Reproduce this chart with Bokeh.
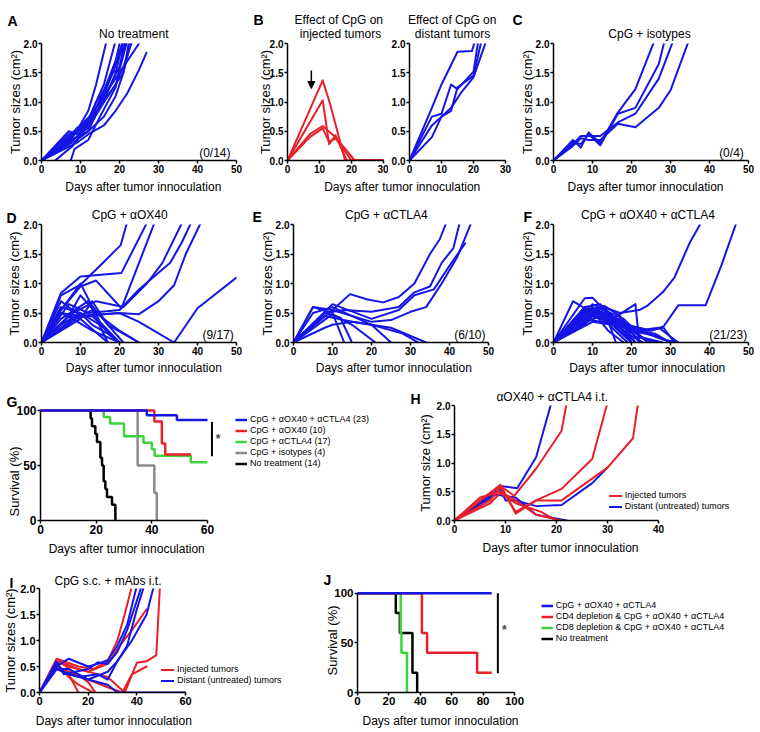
import math
from bokeh.plotting import figure
from bokeh.models import (Range1d, FixedTicker, PrintfTickFormatter, Label, Legend,
                          LegendItem, Arrow, NormalHead)
from bokeh.layouts import row, column
from bokeh.embed import file_html
from bokeh.resources import INLINE

FONT = "Liberation Sans"
BLUE = "#1515e6"
RED = "#e8202a"
GREEN = "#3cd43c"
GRAY = "#8a8a8a"
BLACK = "#000000"

PAGE_W, PAGE_H = 760, 731

# ------------------------------------------------------------------ data
TUMOR_YTICKS = [0, 0.5, 1.0, 1.5, 2.0]

# A: no treatment (14 mice)
A_days = [[0, 5, 9, 12, 14, 16.7], [0, 5, 9, 12, 16, 19], [0, 7, 9, 12, 14, 16, 19, 20.2],
          [0, 9, 12, 16, 19, 21, 22.5], [0, 9, 12, 16, 19, 22, 25, 26.9], [0, 5, 10, 14, 17, 20, 21.5],
          [3.5, 8, 12, 16, 19, 21], [7.5, 8.5, 12, 15, 19, 21.5], [0, 5, 9, 12, 15, 18, 20, 22],
          [0, 7, 10, 13, 16, 19, 21, 23.3], [0, 6, 9, 12, 14, 17, 19, 21], [0, 7, 10, 13, 16, 18, 20, 22],
          [0, 7, 9, 12, 16, 18, 21, 23], [0, 5, 9, 12, 14, 17, 20, 25.5]]
A_sizes = [[0, 0.3, 0.5, 0.85, 1.3, 2.05], [0, 0.25, 0.55, 0.7, 1.3, 2.05], [0, 0.45, 0.5, 0.6, 0.9, 1.2, 1.7, 2.05],
           [0, 0.4, 0.5, 0.75, 1.1, 1.5, 2.05], [0, 0.3, 0.45, 0.6, 0.85, 1.15, 1.55, 1.84], [0, 0.2, 0.45, 0.8, 1.2, 1.6, 2.05],
           [0, 0.25, 0.6, 1.0, 1.5, 2.05], [0, 0.2, 0.35, 0.75, 1.25, 2.05], [0, 0.3, 0.4, 0.7, 1.0, 1.45, 1.8, 2.05],
           [0, 0.35, 0.55, 0.75, 1.0, 1.3, 1.6, 2.05], [0, 0.25, 0.5, 0.65, 1.0, 1.3, 1.7, 2.05], [0, 0.3, 0.6, 0.8, 1.1, 1.5, 1.55, 2.05],
           [0, 0.5, 0.45, 0.55, 1.0, 1.2, 1.5, 2.05], [0, 0.2, 0.35, 0.5, 0.8, 1.2, 1.5, 2.05]]

# B: CpG injected tumors (red) and distant tumors (blue)
B_inj_days = [[0, 11, 13.3, 18, 30], [0, 11, 13, 15, 18.5, 30], [0, 7, 11, 13.3, 15, 21, 30], [0, 7, 11, 13, 15, 20, 30]]
B_inj_sizes = [[0, 1.37, 0.97, 0, 0], [0, 1.03, 0.28, 0.43, 0, 0], [0, 0.45, 0.59, 0.48, 0.4, 0, 0], [0, 0.4, 0.55, 0.32, 0.38, 0, 0]]
B_dist_days = [[0, 7, 10, 15, 19.5, 20.5], [0, 7, 10, 13, 15, 20, 21.5], [0, 7, 10, 13, 15, 20, 22.5], [0, 7, 10, 13, 16, 20, 24]]
B_dist_sizes = [[0, 0.9, 1.3, 1.86, 1.87, 2.05], [0, 0.75, 0.8, 1.3, 1.22, 1.52, 2.05], [0, 0.6, 0.75, 0.85, 1.25, 1.45, 2.05],
                [0, 0.4, 0.75, 0.9, 1.15, 1.42, 2.05]]
B_arrow_day = 7.45
B_arrow_from = 1.54
B_arrow_to = 1.23

# C: CpG + isotypes
C_days = [[0, 5, 7, 9, 12, 16.5, 21, 25.9], [0, 5, 7, 9, 12, 16.5, 21, 27, 28.5],
          [0, 5, 7, 9, 12, 16.5, 21, 27, 30.7], [0, 5, 7, 9, 12, 16.5, 21, 27, 30, 34.7]]
C_sizes = [[0, 0.35, 0.22, 0.48, 0.3, 0.82, 1.22, 2.05], [0, 0.32, 0.28, 0.45, 0.26, 0.8, 0.9, 1.65, 2.05],
           [0, 0.28, 0.42, 0.42, 0.42, 0.65, 0.8, 1.4, 2.05], [0, 0.25, 0.38, 0.35, 0.35, 0.63, 0.57, 0.9, 1.2, 2.05]]

# D: CpG + aOX40
D_days = [[0, 5, 10, 15, 20.3, 22], [0, 5, 10, 20.5, 27.2], [0, 5, 10, 14, 20.5, 29.1],
          [0, 8, 14, 21, 27, 31, 36.2], [0, 7, 12, 20, 25, 33, 36, 38.5], [0, 10, 20, 25, 30, 34, 37, 41],
          [0, 5, 10, 20, 25, 34, 40, 50],
          [0, 5, 10, 13, 17], [0, 5, 10, 15, 20], [0, 7, 10, 14, 20, 25], [0, 5, 12, 17, 21],
          [0, 7, 10, 13, 17, 20], [0, 5, 10, 15, 20], [0, 5, 8, 13, 20], [0, 10, 13, 17, 25],
          [0, 7, 10, 17], [0, 5, 8, 13, 20]]
D_sizes = [[0, 0.8, 0.98, 1.3, 1.65, 2.05], [0, 0.84, 1.12, 1.18, 2.05], [0, 0.55, 0.95, 1.05, 0.58, 2.05],
           [0, 0.5, 0.7, 0.6, 1.0, 1.35, 2.05], [0, 0.65, 0.5, 0.55, 0.9, 1.35, 1.7, 2.05], [0, 0.45, 0.5, 0.48, 0.7, 0.97, 1.5, 2.05],
           [0, 0.5, 0.45, 0.5, 0.35, 0, 0.58, 1.1],
           [0, 0.7, 0.45, 0.55, 0], [0, 0.6, 0.5, 0.3, 0], [0, 0.45, 0.8, 0.5, 0.2, 0], [0, 0.4, 0.7, 0.3, 0],
           [0, 0.35, 0.5, 0.3, 0.15, 0], [0, 0.55, 1.0, 0.35, 0], [0, 0.5, 0.4, 0.2, 0], [0, 0.4, 0.7, 0.3, 0],
           [0, 0.45, 0.4, 0], [0, 0.3, 0.42, 0.45, 0]]

# E: CpG + aCTLA4
E_days = [[0, 5, 10, 14.5, 19, 23, 27, 31, 35, 37.5, 39.3], [0, 8, 13, 20, 27, 31, 35, 38, 41, 42.7],
          [0, 10, 20, 27, 31, 36, 40, 44], [0, 10, 20, 25, 30, 34, 38, 42, 45.7],
          [0, 5, 10, 13], [0, 8, 12, 15], [0, 10, 15, 21], [0, 5, 10, 20, 25], [0, 8, 15, 25, 34],
          [0, 8, 10, 15, 20, 28, 32]]
E_sizes = [[0, 0.6, 0.55, 0.82, 0.73, 0.68, 0.77, 1.0, 1.5, 1.75, 2.05], [0, 0.5, 0.55, 0.52, 0.6, 0.85, 0.95, 1.35, 1.6, 2.05],
           [0, 0.65, 0.4, 0.55, 0.8, 0.9, 1.3, 1.68], [0, 0.55, 0.35, 0.38, 0.52, 0.6, 1.0, 1.45, 2.05],
           [0, 0.6, 0.5, 0], [0, 0.5, 0.42, 0], [0, 0.48, 0.3, 0], [0, 0.5, 0.6, 0.3, 0], [0, 0.45, 0.35, 0.25, 0],
           [0, 0.25, 0.3, 0.35, 0.3, 0.15, 0]]

# F: CpG + aOX40 + aCTLA4 (23 mice)
F_days = [[0, 8, 13, 17, 22, 24, 28, 31, 35, 38], [0, 10, 17, 24, 28, 32, 39, 43, 47],
          [0, 5, 10, 15, 20], [0, 8, 10, 13, 18, 21], [0, 8, 12, 16, 20], [0, 8, 13, 17, 22],
          [0, 10, 13, 18, 24], [0, 8, 12, 15, 19], [0, 10, 15, 21, 27, 32], [0, 8, 12, 17, 22, 28],
          [0, 10, 14, 18, 21], [0, 8, 13, 16], [0, 5, 10, 13, 17, 20], [0, 8, 12, 18, 22, 26, 30],
          [0, 10, 13, 17, 22, 25, 28, 31], [0, 8, 11, 15, 19, 23], [0, 10, 14, 21, 22], [0, 8, 12, 16, 20, 25],
          [0, 10, 13, 20, 27, 30], [0, 8, 11, 14, 18], [0, 10, 15, 20, 24, 28, 32], [0, 8, 12, 17, 21, 27],
          [0, 10, 13, 18, 20]]
F_sizes = [[0, 0.55, 0.6, 0.5, 0.55, 0.62, 0.85, 1.1, 1.7, 2.05], [0, 0.45, 0.35, 0.2, 0.25, 0.63, 0.63, 1.3, 2.05],
           [0, 0.7, 0.5, 0.3, 0], [0, 0.75, 0.76, 0.55, 0.3, 0], [0, 0.6, 0.65, 0.35, 0], [0, 0.5, 0.62, 0.45, 0],
           [0, 0.65, 0.55, 0.4, 0], [0, 0.45, 0.5, 0.25, 0], [0, 0.55, 0.45, 0.2, 0.25, 0], [0, 0.35, 0.45, 0.4, 0.1, 0],
           [0, 0.6, 0.45, 0.2, 0], [0, 0.4, 0.55, 0], [0, 0.3, 0.45, 0.5, 0.2, 0], [0, 0.4, 0.35, 0.3, 0.2, 0.15, 0],
           [0, 0.5, 0.6, 0.3, 0.25, 0.2, 0.27, 0], [0, 0.3, 0.55, 0.35, 0.15, 0], [0, 0.45, 0.35, 0.65, 0], [0, 0.55, 0.5, 0.3, 0.2, 0],
           [0, 0.4, 0.45, 0.2, 0.1, 0], [0, 0.5, 0.45, 0.2, 0], [0, 0.35, 0.3, 0.25, 0.15, 0.05, 0], [0, 0.6, 0.4, 0.35, 0.1, 0],
           [0, 0.45, 0.5, 0.3, 0]]

# G: survival
G_names = ["CpG + \u03b1OX40 + \u03b1CTLA4 (23)", "CpG + \u03b1OX40 (10)", "CpG + \u03b1CTLA4 (17)",
           "CpG + isotypes (4)", "No treatment (14)"]
G_trip_days = [0, 38.2, 49, 60]
G_trip_surv = [100, 95.7, 91.3, 91.3]
G_ox40_days = [0, 40.9, 43.6, 44.8, 54.1]
G_ox40_surv = [100, 90, 70, 60, 60]
G_ctla4_days = [0, 22.7, 25, 30, 37, 40, 41, 54, 60]
G_ctla4_surv = [100, 94.1, 88.2, 76.5, 70.6, 64.7, 58.8, 52.9, 52.9]
G_iso_days = [0, 34.9, 40.9, 41.8]
G_iso_surv = [100, 50, 25, 0]
G_none_days = [0, 18, 18.5, 19.7, 20.3, 21.5, 22.1, 22.7, 23.3, 23.9, 25.7, 26.9]
G_none_surv = [100, 92.9, 85.7, 78.6, 71.4, 57.1, 50, 35.7, 28.6, 21.4, 14.3, 0]
G_sig_day, G_sig_top, G_sig_bottom, G_star = 61.6, 89.5, 58.3, (63.8, 73.7)

# H: aOX40 + aCTLA4 i.t.
H_inj_days = [[0, 5, 9, 11.7, 16, 21, 22], [0, 9, 12, 16, 21, 27, 30], [0, 7, 9, 12, 16, 21, 30, 35, 36],
              [0, 5, 9, 12, 16, 21], [0, 7, 9, 12, 17, 20]]
H_inj_sizes = [[0, 0.35, 0.6, 0.43, 0.9, 1.56, 2.05], [0, 0.62, 0.12, 0.35, 0.55, 1.07, 2.05],
               [0, 0.35, 0.58, 0.15, 0.35, 0.35, 0.92, 1.43, 2.05], [0, 0.4, 0.5, 0.35, 0.1, 0], [0, 0.3, 0.48, 0.3, 0.15, 0]]
H_dist_days = [[0, 9, 12.3, 16, 19], [0, 9, 10, 12, 16, 21, 27, 30], [0, 8, 12, 16, 22]]
H_dist_sizes = [[0, 0.6, 0.56, 1.1, 2.05], [0, 0.55, 0.35, 0.35, 0.25, 0.27, 0.65, 0.92], [0, 0.45, 0.4, 0.1, 0]]

# I: CpG s.c. + mAbs i.t.
I_inj_days = [[0, 7, 10, 16, 22, 28, 32, 35, 38], [0, 7, 12, 20, 28, 33, 38, 44], [0, 7, 12, 16, 22],
              [0, 7, 12, 16], [0, 8, 14, 20, 23], [0, 7, 12, 20, 28, 34, 38, 44], [0, 8, 16, 28, 35, 40, 44, 48, 49.5]]
I_inj_sizes = [[0, 0.65, 0.6, 0.5, 0.45, 0.6, 1.0, 1.5, 2.05], [0, 0.6, 0.5, 0.4, 0.55, 0.9, 1.2, 1.6], [0, 0.55, 0.3, 0.15, 0],
               [0, 0.5, 0.35, 0], [0, 0.6, 0.4, 0.2, 0], [0, 0.5, 0.4, 0.25, 0.1, 0, 0.35, 0.5],
               [0, 0.6, 0.45, 0.3, 0, 0.57, 0.6, 0.72, 2.05]]
I_dist_days = [[0, 7, 12, 20, 24, 28, 32, 36, 40], [0, 7, 10, 20, 24, 28, 32, 36, 42],
               [0, 7, 10, 16, 24, 28, 32, 36, 40, 43], [0, 7, 12, 20, 28, 32, 38, 44, 47], [0, 7, 12, 20, 28, 32, 60]]
I_dist_sizes = [[0, 0.5, 0.65, 0.5, 0.55, 0.62, 0.9, 1.3, 2.05], [0, 0.6, 0.35, 0.45, 0.58, 0.55, 0.78, 1.2, 2.05],
                [0, 0.55, 0.4, 0.3, 0.35, 0.25, 0.6, 0.9, 1.6, 2.05], [0, 0.45, 0.45, 0.25, 0.4, 0.6, 1.0, 1.5, 2.05],
                [0, 0.45, 0.35, 0.25, 0.15, 0, 0]]

# J: depletion survival
J_names = ["CpG + \u03b1OX40 + \u03b1CTLA4", "CD4 depletion & CpG + \u03b1OX40 + \u03b1CTLA4",
           "CD8 depletion & CpG + \u03b1OX40 + \u03b1CTLA4", "No treatment"]
J_trip_days = [0, 85.5]
J_trip_surv = [100, 100]
J_cd4_days = [0, 41, 44.3, 76.2, 85.5]
J_cd4_surv = [100, 60, 40, 20, 20]
J_cd8_days = [0, 27.5, 28, 31.5]
J_cd8_surv = [100, 60, 40, 0]
J_none_days = [0, 24.4, 27, 35, 38]
J_none_surv = [100, 80, 60, 20, 0]
J_sig_day, J_sig_top, J_sig_bottom, J_star = 89.4, 100, 19.3, (93.6, 62.9)

TUMOR_Y = "Tumor sizes (cm\u00b2)"
DAYS_X = "Days after tumor innoculation"

# texts of the page (all placed on one transparent overlay, page pixel positions)
LETTERS = [("A", 7, 20), ("B", 253, 19), ("C", 512, 19), ("D", 6, 217), ("E", 252, 216),
           ("F", 523, 216), ("G", 6, 401), ("H", 410, 398), ("I", 9, 582), ("J", 323, 579)]
TITLES = [("No treatment", 133.3, 33.5), ("Effect of CpG on", 338.3, 19.5), ("injected tumors", 340, 33.5),
          ("Effect of CpG on", 451.7, 19.5), ("distant tumors", 452, 33.5), ("CpG + isotypes", 649, 33.5),
          ("CpG + \u03b1OX40", 129.2, 214.5), ("CpG + \u03b1CTLA4", 385.8, 214.5),
          ("CpG + \u03b1OX40 + \u03b1CTLA4", 647.5, 214.5), ("\u03b1OX40 + \u03b1CTLA4 i.t.", 551.7, 396),
          ("CpG s.c. + mAbs i.t.", 107.5, 580.5)]
XTITLES = [(142.8, 186), (401.7, 186), (645, 186), (143.3, 367.6), (393.3, 367.6), (646.7, 367.6),
           (126.2, 548), (560, 547.6), (113.3, 720.5), (440, 720.5)]
YTITLES = [(TUMOR_Y, 15, 101.5), (TUMOR_Y, 265, 101.5), (TUMOR_Y, 526.7, 101.5), (TUMOR_Y, 14.2, 283),
           (TUMOR_Y, 266.7, 283), (TUMOR_Y, 526.7, 283), ("Survival (%)", 14.3, 481),
           ("Tumor size (cm\u00b2)", 425, 462.5), (TUMOR_Y, 10, 640), ("Survival (%)", 331.7, 640)]
FRACTIONS = [("(0/14)", 230, 152), ("(0/4)", 743.3, 152), ("(9/17)", 233.3, 334.5),
             ("(6/10)", 485, 334.5), ("(21/23)", 746.7, 334.5)]


# ------------------------------------------------------------------ helpers
def panel(fig_rect, frame, xr, yr, xticks, yticks, yfmt="%.1f", tick_size="10px", xbounds=None, ybounds=None):
    x0, y0, x1, y1 = fig_rect
    L, T, R, B = frame
    p = figure(width=x1 - x0, height=y1 - y0, x_range=Range1d(*xr), y_range=Range1d(*yr),
               output_backend="svg", toolbar_location=None,
               min_border_left=L - x0, min_border_right=x1 - R,
               min_border_top=T - y0, min_border_bottom=y1 - B)
    p.outline_line_color = None
    p.xgrid.visible = False
    p.ygrid.visible = False
    p.background_fill_color = "white"
    p.border_fill_color = "white"
    p.xaxis.ticker = FixedTicker(ticks=xticks)
    p.yaxis.ticker = FixedTicker(ticks=yticks)
    p.yaxis.formatter = PrintfTickFormatter(format=yfmt)
    if xbounds is not None:
        p.xaxis.bounds = xbounds
    if ybounds is not None:
        p.yaxis.bounds = ybounds
    for ax in p.axis:
        ax.axis_line_width = 1.5
        ax.axis_line_color = "black"
        ax.major_tick_line_width = 1.5
        ax.major_tick_line_color = "black"
        ax.major_tick_out = 3
        ax.major_tick_in = 0
        ax.minor_tick_out = 0
        ax.minor_tick_in = 0
        ax.major_label_standoff = 1
        ax.major_label_text_font = FONT
        ax.major_label_text_font_style = "bold"
        ax.major_label_text_font_size = tick_size
        ax.major_label_text_color = "black"
    return p


def tumor_lines(p, xs, ys, color, width=2.0):
    return p.multi_line(xs=xs, ys=ys, line_color=color, line_width=width,
                        line_join="round", line_cap="round")


def make_legend(p, frame, x_left, y_bottom, items, glyph_w=12, row_h=11, size="9px"):
    L, T, R, B = frame
    lg = Legend(items=[LegendItem(label=lab, renderers=[r]) for lab, r in items],
                location=(x_left - L, B - y_bottom), orientation="vertical",
                padding=0, margin=0, spacing=0, glyph_width=glyph_w, glyph_height=row_h,
                label_height=row_h, label_standoff=3, label_text_font=FONT,
                label_text_font_size=size, label_text_color="black",
                border_line_alpha=0, background_fill_alpha=0)
    p.add_layout(lg)


XT50 = [0, 10, 20, 30, 40, 50]

# ------------------------------------------------------------------ A
pA = panel((0, 0, 248, 195), (41, 43, 236, 160), (0, 50), (0, 2), XT50, TUMOR_YTICKS)
tumor_lines(pA, A_days, A_sizes, BLUE)

# ------------------------------------------------------------------ B
pB1 = panel((248, 0, 388, 195), (287, 43, 383, 160), (0, 30), (0, 2), [0, 10, 20, 30], TUMOR_YTICKS)
tumor_lines(pB1, B_inj_days, B_inj_sizes, RED)
pB1.add_layout(Arrow(end=NormalHead(size=7, fill_color="black", line_color="black"),
                     x_start=B_arrow_day, y_start=B_arrow_from, x_end=B_arrow_day, y_end=B_arrow_to,
                     line_width=1.5, line_color="black"))
pB2 = panel((388, 0, 512, 195), (409, 43, 505, 160), (0, 30), (0, 2), [0, 10, 20, 30], TUMOR_YTICKS)
tumor_lines(pB2, B_dist_days, B_dist_sizes, BLUE)

# ------------------------------------------------------------------ C
pC = panel((512, 0, 760, 195), (553, 43, 748, 160), (0, 50), (0, 2), XT50, TUMOR_YTICKS)
tumor_lines(pC, C_days, C_sizes, BLUE)

# ------------------------------------------------------------------ D, E, F
pD = panel((0, 195, 248, 375), (41, 224, 236, 342), (0, 50), (0, 2), XT50, TUMOR_YTICKS)
tumor_lines(pD, D_days, D_sizes, BLUE)
pE = panel((248, 195, 505, 375), (293, 224, 488, 342), (0, 50), (0, 2), XT50, TUMOR_YTICKS)
tumor_lines(pE, E_days, E_sizes, BLUE)
pF = panel((505, 195, 760, 375), (553, 224, 748, 342), (0, 50), (0, 2), XT50, TUMOR_YTICKS)
tumor_lines(pF, F_days, F_sizes, BLUE)

# ------------------------------------------------------------------ G
frG = (40, 403, 372, 520)
pG = panel((0, 375, 380, 560), frG, (0, 60 * 332 / 167), (0, 117 / 1.12), [0, 20, 40, 60], [0, 50, 100],
           yfmt="%d", tick_size="12px", xbounds=(0, 60), ybounds=(0, 100))
rg_none = pG.step(G_none_days, G_none_surv, mode="after", line_color=BLACK, line_width=2.5)
rg_iso = pG.step(G_iso_days, G_iso_surv, mode="after", line_color=GRAY, line_width=2.5)
rg_ctla = pG.step(G_ctla4_days, G_ctla4_surv, mode="after", line_color=GREEN, line_width=2.5)
rg_ox = pG.step(G_ox40_days, G_ox40_surv, mode="after", line_color=RED, line_width=2.5)
rg_trip = pG.step(G_trip_days, G_trip_surv, mode="after", line_color=BLUE, line_width=2.5)
pG.segment(x0=[G_sig_day], y0=[G_sig_top], x1=[G_sig_day], y1=[G_sig_bottom], line_color="black", line_width=2)
pG.add_layout(Label(x=G_star[0], y=G_star[1], text="*", text_font=FONT, text_font_size="12px",
                    text_font_style="bold", text_align="center", text_baseline="middle"))
make_legend(pG, frG, 235, 468.8, list(zip(G_names, [rg_trip, rg_ox, rg_ctla, rg_iso, rg_none])))

# ------------------------------------------------------------------ H
frH = (454, 405, 740, 520)
pH = panel((380, 375, 760, 560), frH, (0, 40 * 286 / 204), (0, 2), [0, 10, 20, 30, 40], TUMOR_YTICKS,
           xbounds=(0, 40))
rh_d = tumor_lines(pH, H_dist_days, H_dist_sizes, BLUE)
rh_i = tumor_lines(pH, H_inj_days, H_inj_sizes, RED)
make_legend(pH, frH, 608.7, 511.8, [("Injected tumors", rh_i), ("Distant (untreated) tumors", rh_d)], glyph_w=13)

# ------------------------------------------------------------------ I
frI = (39, 588, 292, 692)
pI = panel((0, 560, 300, PAGE_H), frI, (0, 60 * 253 / 146), (0, 2), [0, 20, 40, 60], TUMOR_YTICKS,
           tick_size="11px", xbounds=(0, 60))
ri_i = tumor_lines(pI, I_inj_days, I_inj_sizes, RED)
ri_d = tumor_lines(pI, I_dist_days, I_dist_sizes, BLUE)
make_legend(pI, frI, 161, 685.8, [("Injected tumors", ri_i), ("Distant (untreated) tumors", ri_d)], glyph_w=13)

# ------------------------------------------------------------------ J
frJ = (357, 583, 742, 692)
pJ = panel((300, 560, 760, PAGE_H), frJ, (0, 100 * 385 / 157), (0, 109 / 1.04), [0, 20, 40, 60, 80, 100], [0, 50, 100],
           yfmt="%d", tick_size="11.5px", xbounds=(0, 100), ybounds=(0, 100))
rj_none = pJ.step(J_none_days, J_none_surv, mode="after", line_color=BLACK, line_width=2.5)
rj_cd8 = pJ.step(J_cd8_days, J_cd8_surv, mode="after", line_color=GREEN, line_width=2.5)
rj_cd4 = pJ.step(J_cd4_days, J_cd4_surv, mode="after", line_color=RED, line_width=2.5)
rj_trip = pJ.step(J_trip_days, J_trip_surv, mode="after", line_color=BLUE, line_width=2.5)
pJ.segment(x0=[J_sig_day], y0=[J_sig_top], x1=[J_sig_day], y1=[J_sig_bottom], line_color="black", line_width=2)
pJ.add_layout(Label(x=J_star[0], y=J_star[1], text="*", text_font=FONT, text_font_size="12px",
                    text_font_style="bold", text_align="center", text_baseline="middle"))
make_legend(pJ, frJ, 540.7, 643.5, list(zip(J_names, [rj_trip, rj_cd4, rj_cd8, rj_none])))

# ------------------------------------------------------------------ text overlay (transparent, on top)
ov = figure(width=PAGE_W, height=PAGE_H, x_range=Range1d(0, PAGE_W), y_range=Range1d(PAGE_H, 0),
            output_backend="svg", toolbar_location=None, min_border=0,
            x_axis_type=None, y_axis_type=None, margin=(-PAGE_H, 0, 0, 0))
ov.outline_line_color = None
ov.xgrid.visible = False
ov.ygrid.visible = False
ov.background_fill_alpha = 0
ov.border_fill_alpha = 0


def otext(x, y, text, size="12px", bold=False, align="left", baseline="alphabetic", angle=0.0):
    ov.add_layout(Label(x=x, y=y, text=text, text_font=FONT, text_font_size=size,
                        text_font_style="bold" if bold else "normal", text_align=align,
                        text_baseline=baseline, angle=angle, text_color="black"))


for t, x, y in LETTERS:
    otext(x, y, t, size="14px", bold=True)
for t, x, y in TITLES:
    otext(x, y, t, align="center")
for x, y in XTITLES:
    otext(x, y, DAYS_X, align="center")
for t, x, y in YTITLES:
    otext(x, y, t, size="13px", align="center", baseline="middle", angle=math.pi / 2)
for t, x, y in FRACTIONS:
    otext(x, y, t, align="right")

# ------------------------------------------------------------------ layout
grid = column(
    row(pA, pB1, pB2, pC, spacing=0),
    row(pD, pE, pF, spacing=0),
    row(pG, pH, spacing=0),
    row(pI, pJ, spacing=0),
    spacing=0,
)
layout = column(grid, ov, spacing=0)

open("out.html", "w").write(file_html(layout, INLINE))
